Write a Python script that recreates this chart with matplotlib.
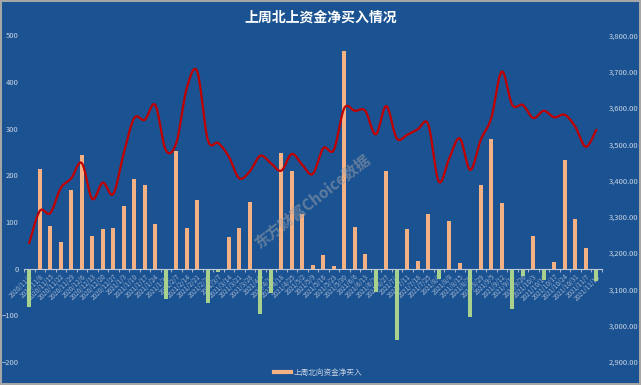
import numpy as np
import matplotlib.pyplot as plt
from matplotlib.lines import Line2D

plt.rcParams['font.family'] = ['Noto Sans CJK SC', 'DejaVu Sans']

weeks = [
    '2020/11/1', '2020/11/8', '2020/11/15', '2020/11/22', '2020/11/29',
    '2020/12/6', '2020/12/13', '2020/12/20', '2020/12/27', '2021/1/3',
    '2021/1/10', '2021/1/17', '2021/1/24', '2021/1/31', '2021/2/7',
    '2021/2/14', '2021/2/21', '2021/2/28', '2021/3/7', '2021/3/14',
    '2021/3/21', '2021/3/28', '2021/4/4', '2021/4/11', '2021/4/18',
    '2021/4/25', '2021/5/2', '2021/5/9', '2021/5/16', '2021/5/23',
    '2021/5/30', '2021/6/6', '2021/6/13', '2021/6/20', '2021/6/27',
    '2021/7/4', '2021/7/11', '2021/7/18', '2021/7/25', '2021/8/1',
    '2021/8/8', '2021/8/15', '2021/8/22', '2021/8/29', '2021/9/5',
    '2021/9/12', '2021/9/19', '2021/9/26', '2021/10/3', '2021/10/10',
    '2021/10/17', '2021/10/24', '2021/10/31', '2021/11/7', '2021/11/14',
]

# 上周北向资金净买入 (亿元)
net_buy = [
    -82, 214, 92, 56, 168, 244, 70, 85, 86, 135,
    191, 180, 95, -66, 253, 88, 147, -73, -7, 67,
    87, 142, -97, -52, 247, 209, 118, 7, 29, 5,
    466, 89, 31, -50, 209, -153, 84, 17, 118, -23,
    101, 13, -103, 179, 278, 140, -87, -15, 70, -25,
    15, 232, 106, 45, -26,
]

# 上证指数 (右轴)
index_close = [
    3228, 3316, 3310, 3379, 3406, 3448, 3349, 3394, 3363, 3475,
    3572, 3567, 3608, 3484, 3503, 3654, 3700, 3512, 3503, 3466,
    3406, 3425, 3468, 3448, 3427, 3473, 3443, 3418, 3489, 3484,
    3599, 3592, 3592, 3527, 3605, 3516, 3526, 3541, 3554, 3397,
    3461, 3516, 3429, 3512, 3572, 3700, 3608, 3608, 3572, 3592,
    3574, 3581, 3548, 3493, 3539,
]

BG = '#1B5392'
ORANGE = '#F4B183'
GREEN = '#A9D18E'
RED = '#C00000'
TXT = '#C9D3E3'


def catmull_rom(xs, ys, n=16):
    pts = np.column_stack([xs, ys]).astype(float)
    p = np.vstack([pts[0], pts, pts[-1]])
    t = np.linspace(0, 1, n, endpoint=False)[:, None]
    out = []
    for i in range(1, len(p) - 2):
        p0, p1, p2, p3 = p[i - 1], p[i], p[i + 1], p[i + 2]
        seg = 0.5 * (2 * p1 + (-p0 + p2) * t
                     + (2 * p0 - 5 * p1 + 4 * p2 - p3) * t ** 2
                     + (-p0 + 3 * p1 - 3 * p2 + p3) * t ** 3)
        out.append(seg)
    out.append(pts[-1:])
    out = np.vstack(out)
    return out[:, 0], out[:, 1]


fig = plt.figure(figsize=(6.41, 3.85), dpi=100)
fig.patch.set_facecolor(BG)
fig.patch.set_edgecolor('#A6A6A6')
fig.patch.set_linewidth(1.5)

ax = fig.add_axes([24 / 641, 1 - 361.9 / 385, 577.5 / 641, (361.9 - 35.3) / 385])
ax.set_facecolor(BG)
x = np.arange(len(weeks))
colors = [ORANGE if v >= 0 else GREEN for v in net_buy]
ax.bar(x, net_buy, width=0.36, color=colors, zorder=2)

ax.set_xlim(-0.5, len(weeks) - 0.5)
ax.set_ylim(-200, 500)
ax.set_yticks(np.arange(-200, 501, 100))
ax.tick_params(axis='y', length=0, labelsize=5.5, labelcolor=TXT, pad=4)
for s in ['top', 'right', 'left']:
    ax.spines[s].set_visible(False)
ax.spines['bottom'].set_position(('data', 0))
ax.spines['bottom'].set_color('#BFC7D5')
ax.spines['bottom'].set_linewidth(0.8)
ax.set_xticks(x)
ax.set_xticklabels(weeks, rotation=45, ha='right', rotation_mode='anchor')
ax.set_xticks(np.arange(-0.5, len(weeks), 1), minor=True)
ax.tick_params(axis='x', which='major', length=0, labelsize=4.6,
               labelcolor='#9FB2CE', pad=3)
ax.tick_params(axis='x', which='minor', length=2.5, color='#BFC7D5', width=0.6)

ax2 = ax.twinx()
sx, sy = catmull_rom(x, index_close)
ax2.plot(sx, sy, color=RED, lw=1.6, zorder=3)
ax2.set_ylim(2900, 3800)
ax2.set_yticks(np.arange(2900, 3801, 100))
ax2.set_yticklabels([f'{v:,.2f}' for v in range(2900, 3801, 100)])
ax2.tick_params(axis='y', length=0, labelsize=5.5, labelcolor=TXT, pad=5)
for s in ['top', 'right', 'left', 'bottom']:
    ax2.spines[s].set_visible(False)

fig.text(0.5, 1 - 18 / 385, '上周北上资金净买入情况', ha='center', va='center',
         fontsize=10, fontweight='bold', color='white')

fig.legend(handles=[Line2D([0], [0], color=ORANGE, lw=3)],
           labels=['上周北向资金净买入'], loc='center',
           bbox_to_anchor=(318 / 641, 1 - 373 / 385), frameon=False,
           fontsize=5.5, labelcolor=TXT, handlelength=2.2, handletextpad=0.4)

fig.text(312 / 641, 1 - 201 / 385, '东方财富Choice数据', ha='center', va='center',
         rotation=38, fontsize=11, fontweight='bold', style='italic',
         color='#9A9FA8', alpha=0.55, zorder=10)

fig.savefig('out.png', dpi=100, facecolor=fig.get_facecolor(),
            edgecolor=fig.get_edgecolor())
